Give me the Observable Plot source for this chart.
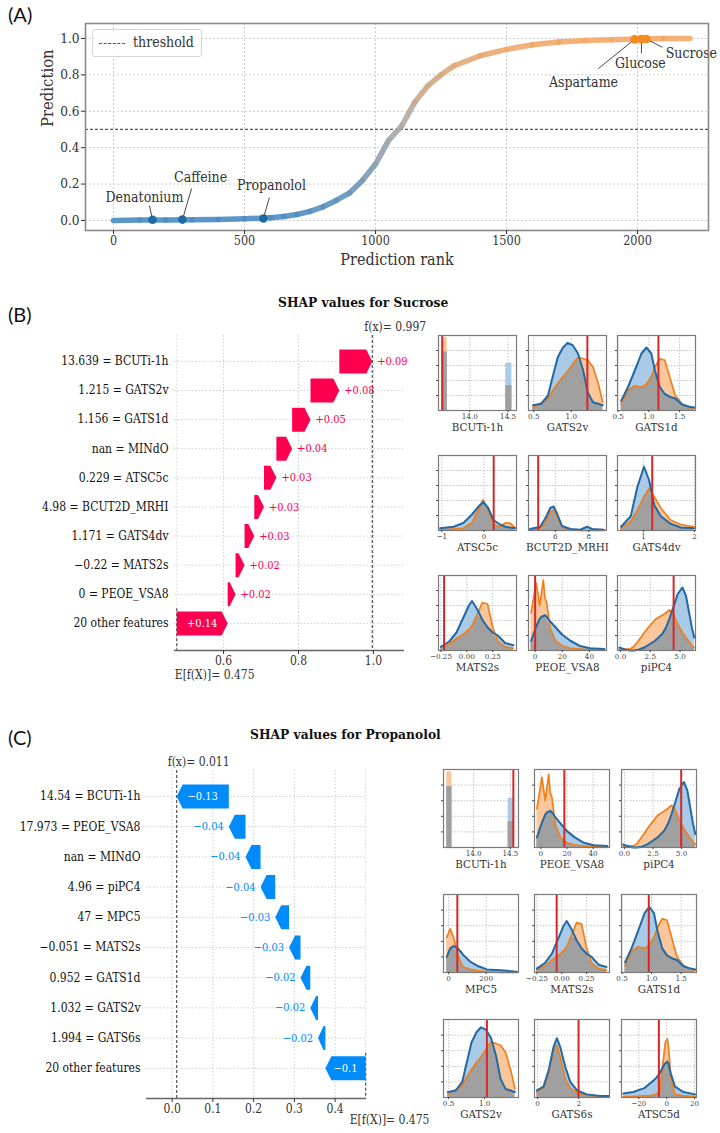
<!DOCTYPE html>
<html>
<head>
<meta charset="utf-8">
<script src="https://cdn.jsdelivr.net/npm/d3@7"></script>
<script src="https://cdn.jsdelivr.net/npm/@observablehq/plot@0.6"></script>
<style>
  body { margin: 0; background: #fff; }
  #root { position: relative; width: 720px; height: 1133px; overflow: hidden; background: #fff; font-family: 'DejaVu Serif', serif; font-stretch: condensed; }
  #root svg { overflow: visible; font-stretch: condensed; }
</style>
</head>
<body>
<div id="root"></div>
<script>
// ================= DATA =================
// Panel A: prediction curve (rank vs prediction)
const rankPts = [0,100,200,300,400,500,600,650,700,750,800,850,900,950,1000,1050,1100,1150,1200,1250,1300,1400,1500,1600,1700,1800,1900,2000,2100,2200];
const predPts = [0.000,0.002,0.003,0.004,0.006,0.009,0.015,0.022,0.033,0.05,0.075,0.11,0.15,0.22,0.31,0.44,0.52,0.65,0.74,0.80,0.85,0.905,0.94,0.965,0.98,0.988,0.993,0.997,0.999,1.0];
const threshold = 0.5;
const xTicksA = [0, 500, 1000, 1500, 2000];
const yTicksA = [0, 0.2, 0.4, 0.6, 0.8, 1.0];
const annNames = ["Denatonium","Caffeine","Propanolol","Aspartame","Glucose","Sucrose"];
const annRank = [149, 263, 572, 1989, 2015, 2034];
const annPred = [0.004, 0.005, 0.011, 0.995, 0.996, 0.997];
const annTipRank = [137, 298, 595, 1851, 2015, 2095];
const annTipPred = [0.082, 0.176, 0.126, 0.835, 0.918, 0.951];

// Panel B: SHAP waterfall for Sucrose
const sucNames = ["BCUTi-1h","GATS2v","GATS1d","MINdO","ATSC5c","BCUT2D_MRHI","GATS4dv","MATS2s","PEOE_VSA8","20 other features"];
const sucVals = ["13.639","1.215","1.156","nan","0.229","4.98","1.171","\u22120.22","0", null];
const sucShap = [0.088,0.077,0.049,0.042,0.033,0.026,0.026,0.024,0.021,0.136];
const sucBase = 0.475, sucFx = 0.997;
const sucTicks = [0.6, 0.8, 1.0];

// Panel C: SHAP waterfall for Propanolol
const proNames = ["BCUTi-1h","PEOE_VSA8","MINdO","piPC4","MPC5","MATS2s","GATS1d","GATS2v","GATS6s","20 other features"];
const proVals = ["14.54","17.973","nan","4.96","47","\u22120.051","0.952","1.032","1.994", null];
const proShap = [-0.128,-0.041,-0.037,-0.036,-0.034,-0.028,-0.024,-0.019,-0.018,-0.099];
const proBase = 0.475, proFx = 0.011;
const proTicks = [0, 0.1, 0.2, 0.3, 0.4];

// Feature distributions (relative density, blue = non-sweet class, orange = sweet class)
const bcuti_x1 = [13.635, 14.47], bcuti_x2 = [13.705, 14.55];
const bcuti_non = [0.78, 0.63], bcuti_sweet = [0.97, 0.33];
const bcuti_ticks = [14.0, 14.5];

const gats2v_x = [0.49,0.6,0.69,0.75,0.82,0.89,0.95,1.02,1.09,1.16,1.22,1.29,1.36,1.42];
const gats2v_non = [0.07,0.09,0.2,0.44,0.71,0.84,0.9,0.87,0.76,0.53,0.24,0.11,0.09,0.07];
const gats2v_sweet = [0.04,0.1,0.16,0.26,0.36,0.45,0.52,0.62,0.71,0.69,0.67,0.58,0.36,0.11];
const gats2v_ticks = [0.5, 1.0];

const gats1d_x = [0.55,0.66,0.77,0.88,0.96,1.04,1.1,1.18,1.26,1.35,1.43,1.54,1.66,1.74];
const gats1d_non = [0.13,0.31,0.53,0.76,0.84,0.76,0.53,0.31,0.22,0.18,0.16,0.08,0.05,0.04];
const gats1d_sweet = [0.09,0.27,0.33,0.31,0.35,0.45,0.58,0.69,0.67,0.42,0.2,0.09,0.04,0.03];
const gats1d_ticks = [0.5, 1.0, 1.5];

const atsc5c_x = [-1.04,-0.72,-0.49,-0.29,-0.13,-0.02,0.1,0.22,0.38,0.5,0.61,0.73];
const atsc5c_non = [0.03,0.05,0.1,0.21,0.32,0.38,0.3,0.14,0.08,0.05,0.04,0.03];
const atsc5c_sweet = [0.01,0.02,0.03,0.1,0.28,0.41,0.27,0.08,0.05,0.1,0.1,0.04];
const atsc5c_ticks = [-1, 0];

const bcut2d_x = [4.5,5.1,5.4,5.7,5.9,6.1,6.4,6.9,7.5,7.9,8.2,8.9];
const bcut2d_non = [0.02,0.05,0.16,0.3,0.32,0.23,0.06,0.02,0.01,0.05,0.02,0.01];
const bcut2d_sweet = [0.01,0.03,0.1,0.25,0.27,0.19,0.05,0.01,0.0,0.0,0.0,0.0];
const bcut2d_ticks = [6, 8];

const gats4dv_x = [0.56,0.75,0.88,1.01,1.11,1.21,1.34,1.53,1.73,1.99];
const gats4dv_non = [0.05,0.19,0.58,0.85,0.67,0.34,0.19,0.09,0.04,0.03];
const gats4dv_sweet = [0.03,0.12,0.27,0.45,0.56,0.45,0.3,0.14,0.08,0.05];
const gats4dv_ticks = [1, 2];

const mats2s_x = [-0.25,-0.17,-0.1,-0.03,0.02,0.05,0.1,0.15,0.2,0.25,0.3,0.37,0.45];
const mats2s_non = [0.05,0.12,0.24,0.45,0.6,0.66,0.55,0.41,0.31,0.24,0.2,0.1,0.07];
const mats2s_sweet = [0.04,0.08,0.16,0.22,0.28,0.33,0.48,0.64,0.62,0.31,0.12,0.05,0.03];
const mats2s_ticks = [-0.25, 0, 0.25];

const peoe_x = [-3,0.8,3.3,4.6,6,7.2,8.5,11,15,20,26,33,40.5,51];
const peoe_non = [0.13,0.32,0.42,0.45,0.46,0.47,0.45,0.39,0.31,0.21,0.13,0.06,0.03,0.02];
const peoe_sweet = [0.5,0.9,0.6,0.75,0.94,0.7,0.64,0.3,0.13,0.06,0.03,0.02,0.01,0.01];
const peoe_ticks = [0, 20, 40];

const pipc4_x = [-0.1,0.4,0.8,1.1,1.5,2.0,2.3,2.9,3.5,3.8,4.1,4.4,4.8,5.2,5.5,6.0,6.2];
const pipc4_non = [0.04,0.01,0.0,0.0,0.01,0.04,0.07,0.13,0.22,0.3,0.42,0.56,0.75,0.84,0.73,0.3,0.17];
const pipc4_sweet = [0.02,0.02,0.02,0.05,0.13,0.24,0.3,0.41,0.47,0.5,0.54,0.5,0.35,0.24,0.17,0.07,0.04];
const pipc4_ticks = [0, 2.5, 5];

const mpc5_x = [-9,9,27,48,53,71,80,115,159,204,274,363];
const mpc5_non = [0.2,0.31,0.34,0.31,0.3,0.25,0.22,0.14,0.08,0.04,0.03,0.01];
const mpc5_sweet = [0.45,0.56,0.45,0.24,0.2,0.1,0.07,0.04,0.02,0.01,0.0,0.0];
const mpc5_ticks = [0, 200];

const gats6s_x = [-0.03,0.29,0.54,0.78,0.94,1.1,1.35,1.59,1.92,2.4,3.06,3.46];
const gats6s_non = [0.09,0.14,0.35,0.65,0.76,0.65,0.39,0.2,0.09,0.04,0.02,0.02];
const gats6s_sweet = [0.07,0.12,0.31,0.61,0.67,0.52,0.24,0.12,0.06,0.03,0.01,0.01];
const gats6s_ticks = [0, 2];

const atsc5d_x = [-31,-24,-16,-12,-8,-5,-2.4,-1,0.5,1.2,2.4,2.9,6,12,20.5];
const atsc5d_non = [0.05,0.07,0.12,0.18,0.24,0.31,0.4,0.44,0.46,0.44,0.35,0.31,0.14,0.07,0.04];
const atsc5d_sweet = [0.01,0.01,0.02,0.02,0.04,0.07,0.48,0.7,0.75,0.67,0.4,0.26,0.04,0.02,0.01];
const atsc5d_ticks = [-20, 0, 20];

const histGridY = [0.2, 0.4, 0.6, 0.8];

// Which panels appear, and the sample's value (red line)
const sucGrid = ["BCUTi-1h","GATS2v","GATS1d","ATSC5c","BCUT2D_MRHI","GATS4dv","MATS2s","PEOE_VSA8","piPC4"];
const sucSample = [13.639, 1.215, 1.156, 0.229, 4.98, 1.171, -0.22, 0, 4.46];
const proGrid = ["BCUTi-1h","PEOE_VSA8","piPC4","MPC5","MATS2s","GATS1d","GATS2v","GATS6s","ATSC5d"];
const proSample = [14.54, 17.973, 4.96, 47, -0.051, 0.952, 1.032, 1.994, -5.6];

// Table the drawing code uses (built from the arrays above)
const FEATURES = {
  "BCUTi-1h":    {domain: [13.59, 14.61], ticks: bcuti_ticks, fmt: ".1f", bars: {x1: bcuti_x1, x2: bcuti_x2, non: bcuti_non, sweet: bcuti_sweet}},
  "GATS2v":      {domain: [0.43, 1.47],  ticks: gats2v_ticks, fmt: ".1f", x: gats2v_x, non: gats2v_non, sweet: gats2v_sweet},
  "GATS1d":      {domain: [0.49, 1.76],  ticks: gats1d_ticks, fmt: ".1f", x: gats1d_x, non: gats1d_non, sweet: gats1d_sweet},
  "ATSC5c":      {domain: [-1.08, 0.77], ticks: atsc5c_ticks, fmt: "d",   x: atsc5c_x, non: atsc5c_non, sweet: atsc5c_sweet},
  "BCUT2D_MRHI": {domain: [4.4, 9.06],   ticks: bcut2d_ticks, fmt: "d",   x: bcut2d_x, non: bcut2d_non, sweet: bcut2d_sweet},
  "GATS4dv":     {domain: [0.49, 2.02],  ticks: gats4dv_ticks, fmt: "d",  x: gats4dv_x, non: gats4dv_non, sweet: gats4dv_sweet},
  "MATS2s":      {domain: [-0.274, 0.48], ticks: mats2s_ticks, fmt: ".2f", x: mats2s_x, non: mats2s_non, sweet: mats2s_sweet},
  "PEOE_VSA8":   {domain: [-4.9, 52.6],  ticks: peoe_ticks, fmt: "d",     x: peoe_x, non: peoe_non, sweet: peoe_sweet},
  "piPC4":       {domain: [-0.26, 6.3],  ticks: pipc4_ticks, fmt: ".1f",  x: pipc4_x, non: pipc4_non, sweet: pipc4_sweet},
  "MPC5":        {domain: [-26.5, 372],  ticks: mpc5_ticks, fmt: "d",     x: mpc5_x, non: mpc5_non, sweet: mpc5_sweet},
  "GATS6s":      {domain: [-0.15, 3.5],  ticks: gats6s_ticks, fmt: "d",   x: gats6s_x, non: gats6s_non, sweet: gats6s_sweet},
  "ATSC5d":      {domain: [-32.4, 21.4], ticks: atsc5d_ticks, fmt: "d",   x: atsc5d_x, non: atsc5d_non, sweet: atsc5d_sweet}
};

// ================= DRAWING =================
const SERIF = "'DejaVu Serif', 'Liberation Serif', serif";
const root = document.getElementById("root");

function put(node, left, top, width) {
  const d = document.createElement("div");
  d.style.cssText = `position:absolute;left:${left}px;top:${top}px;` + (width ? `width:${width}px;` : "");
  d.appendChild(node);
  root.appendChild(d);
  return d;
}
function htmlText(str, left, top, css) {
  const d = document.createElement("div");
  d.textContent = str;
  d.style.cssText = `position:absolute;left:${left}px;top:${top}px;white-space:nowrap;line-height:1;` + css;
  root.appendChild(d);
  return d;
}

// ---------- Panel A ----------
const curve = rankPts.map((r, i) => ({rank: r, pred: predPts[i]}));
const segs = d3.pairs(curve).map(([a, b]) => ({x1: a.rank, y1: a.pred, x2: b.rank, y2: b.pred, c: (a.pred + b.pred) / 2}));
const ann = annNames.map((name, i) => ({name, rank: annRank[i], pred: annPred[i], tr: annTipRank[i], tp: annTipPred[i]}));
const annOffset = {Denatonium: [-5, -8], Caffeine: [9, -11], Propanolol: [2, -12], Aspartame: [-15, 14], Glucose: [-1, 10], Sucrose: [29, 6]};

const chartA = Plot.plot({
  width: 720, height: 275,
  marginLeft: 85, marginRight: 12, marginTop: 23, marginBottom: 45,
  style: {fontFamily: SERIF, fontSize: "13px", color: "#333", background: "transparent", overflow: "visible"},
  x: {domain: [-107, 2271]},
  y: {domain: [-0.055, 1.082]},
  color: {type: "linear", domain: [0, 0.5, 1], range: ["#4a8cc4", "#a8a8a8", "#f5a865"]},
  marks: [
    Plot.gridX({ticks: xTicksA, stroke: "#cccccc", strokeOpacity: 1, strokeDasharray: "2,2"}),
    Plot.gridY({ticks: yTicksA, stroke: "#cccccc", strokeOpacity: 1, strokeDasharray: "2,2"}),
    Plot.ruleY([threshold], {stroke: "#555", strokeWidth: 1.3, strokeDasharray: "3,2"}),
    Plot.link(segs, {x1: "x1", y1: "y1", x2: "x2", y2: "y2", stroke: "c", strokeWidth: 5.5, strokeLinecap: "round", strokeOpacity: 0.9}),
    Plot.link(ann, {x1: "rank", y1: "pred", x2: "tr", y2: "tp", stroke: "#333", strokeWidth: 0.9}),
    Plot.dot(ann.filter(d => d.pred < threshold), {x: "rank", y: "pred", r: 4.3, fill: "#1f6aa6", stroke: null}),
    Plot.dot(ann.filter(d => d.pred >= threshold), {x: "rank", y: "pred", r: 4.3, fill: "#f5891f", stroke: null}),
    ...ann.map(d => Plot.text([d], {x: "tr", y: "tp", text: "name", dx: annOffset[d.name][0], dy: annOffset[d.name][1], fontSize: 14, fill: "#333"})),
    Plot.frame({stroke: "#8a8a8a", strokeWidth: 1.6}),
    Plot.axisX({ticks: xTicksA, tickSize: 4, tickPadding: 2, tickFormat: "d", fontSize: 12.5, label: null}),
    Plot.axisY({ticks: yTicksA, tickSize: 4, tickPadding: 2, tickFormat: ".1f", fontSize: 13.5, label: null}),
    Plot.text(["Prediction rank"], {text: d => d, frameAnchor: "bottom", dy: 34, fontSize: 16, fill: "#333"}),
    Plot.text(["Prediction"], {text: d => d, frameAnchor: "left", dx: -38, rotate: -90, fontSize: 16.5, fill: "#333"})
  ]
});
put(chartA, 0, 0, 720);

// legend box
(function () {
  const leg = document.createElement("div");
  leg.style.cssText = "position:absolute;left:92px;top:29px;width:110px;height:28px;border:1px solid #d6d6d6;border-radius:3px;background:rgba(255,255,255,0.85);box-sizing:border-box;";
  const ln = document.createElement("div");
  ln.style.cssText = "position:absolute;left:6px;top:13px;width:26px;height:0;border-top:1.4px dashed #555;";
  const tx = document.createElement("div");
  tx.textContent = "threshold";
  tx.style.cssText = `position:absolute;left:40px;top:5px;font-family:${SERIF};font-size:14px;color:#333;line-height:1;white-space:nowrap;`;
  leg.appendChild(ln); leg.appendChild(tx);
  root.appendChild(leg);
})();

// ---------- Waterfall ----------
function waterfall(cfg) {
  const n = cfg.shap.length;
  const starts = [], ends = [];
  let acc = cfg.base;
  for (let i = n - 1; i >= 0; i--) { starts[i] = acc; acc += cfg.shap[i]; ends[i] = acc; }
  const fw = cfg.width - cfg.ml - cfg.mr, fh = cfg.height - cfg.mt - cfg.mb;
  const ux = (cfg.xdom[1] - cfg.xdom[0]) / fw;
  const uy = (cfg.ydom[1] - cfg.ydom[0]) / fh;
  const hh = 12 * uy;
  const poly = [];
  cfg.shap.forEach((s, i) => {
    const a = starts[i], b = ends[i], dir = Math.sign(s), len = Math.abs(s);
    const h = Math.min(6 * ux, 0.75 * len);
    [[a, i - hh], [b - dir * h, i - hh], [b, i], [b - dir * h, i + hh], [a, i + hh]]
      .forEach(([x, y]) => poly.push({row: i, x, y}));
  });
  const labs = cfg.shap.map((s, i) => ({i, s, a: starts[i], b: ends[i], inside: Math.abs(s) >= 0.095}));
  const rows = cfg.names.map((nm, i) => ({i, nm, val: cfg.vals[i], text: (cfg.vals[i] == null ? "" : cfg.vals[i] + " = ") + nm}));
  const positive = cfg.shap[0] > 0;
  const color = positive ? "#ff0051" : "#008bfb";
  const fmt = d3.format("+.2~f");
  const svg = Plot.plot({
    width: cfg.width, height: cfg.height,
    marginLeft: cfg.ml, marginRight: cfg.mr, marginTop: cfg.mt, marginBottom: cfg.mb,
    style: {fontFamily: SERIF, fontSize: "11.5px", color: "#333", background: "transparent", overflow: "visible"},
    x: {domain: cfg.xdom},
    y: {domain: cfg.ydom, reverse: true, axis: null},
    marks: [
      Plot.ruleX(cfg.ticks, {stroke: "#cfcfcf", strokeDasharray: "1.5,2"}),
      Plot.ruleY(d3.range(n), {stroke: "#cfcfcf", strokeDasharray: "1.5,2"}),
      Plot.ruleX([cfg.base], {stroke: "#d8d8d8", strokeDasharray: "1.5,2"}),
      Plot.ruleX([cfg.base], {y1: n - 1.5, y2: cfg.ydom[1], stroke: "#555", strokeDasharray: "3,2", strokeWidth: 1.2}),
      Plot.ruleX([cfg.fx], {stroke: "#555", strokeDasharray: "3,2", strokeWidth: 1.2}),
      Plot.line(poly, {x: "x", y: "y", z: "row", fill: color, stroke: "none", curve: "linear"}),
      Plot.text(labs.filter(d => d.inside), {x: d => (d.a + d.b) / 2, y: "i", text: d => fmt(d.s), fill: "white", fontSize: 11}),
      Plot.text(labs.filter(d => !d.inside), {x: "b", y: "i", text: d => fmt(d.s), fill: color, fontSize: 11, dx: positive ? 5 : -5, textAnchor: positive ? "start" : "end"}),
      Plot.text(rows, {y: "i", text: "text", frameAnchor: "left", dx: -6, textAnchor: "end", fontSize: 12, fill: "#111", ariaLabel: "ylab"}),
      Plot.ruleY([cfg.ydom[1]], {stroke: "#666", strokeWidth: 1.5}),
      Plot.axisX({ticks: cfg.ticks, tickFormat: ".1f", tickSize: 4, tickPadding: 2, fontSize: 12, label: null}),
      Plot.text([cfg.fx], {x: d => d, frameAnchor: "top", dy: -13, dx: cfg.fdx, textAnchor: "start", text: d => "f(x)= " + d3.format(".3f")(d), fontSize: 12, ariaLabel: "fxlab"}),
      Plot.text([cfg.base], {x: d => d, frameAnchor: "bottom", dy: cfg.edy, dx: cfg.edx, textAnchor: "start", text: d => "E[f(X)]= " + d3.format(".3f")(d), fontSize: 12, ariaLabel: "elab"})
    ]
  });
  const S = d3.select(svg);
  S.selectAll('g[aria-label="ylab"] text').each(function (_, k) {
    const r = rows[k];
    const t = d3.select(this);
    t.text(null);
    if (r.val != null) t.append("tspan").attr("fill", "#a3a3a3").text(r.val + " = ");
    t.append("tspan").attr("fill", "#111").text(r.nm);
  });
  function split(sel, a, b) {
    sel.each(function () {
      const t = d3.select(this);
      t.text(null);
      t.append("tspan").attr("font-style", "italic").attr("fill", "#222").text(a);
      t.append("tspan").attr("fill", "#a8a8a8").text(b);
    });
  }
  split(S.selectAll('g[aria-label="fxlab"] text'), "f(x)", "= " + d3.format(".3f")(cfg.fx));
  split(S.selectAll('g[aria-label="elab"] text'), "E[f(X)]", "= " + d3.format(".3f")(cfg.base));
  put(svg, cfg.left, cfg.top, cfg.width);
}

waterfall({names: sucNames, vals: sucVals, shap: sucShap, base: sucBase, fx: sucFx, ticks: sucTicks,
  left: 0, top: 300, width: 420, height: 390, ml: 174, mr: 16, mt: 35, mb: 40,
  xdom: [0.469, 1.083], ydom: [-0.89, 9.93], fdx: -8, edx: -2, edy: 28});
waterfall({names: proNames, vals: proVals, shap: proShap, base: proBase, fx: proFx, ticks: proTicks,
  left: 0, top: 740, width: 420, height: 393, ml: 146, mr: 54, mt: 30, mb: 35,
  xdom: [-0.063, 0.477], ydom: [-0.86, 10.0], fdx: -9, edx: -16, edy: 25});

// ---------- Small distribution panels ----------
function histPanel(feat, sample, left, top, fw, fh) {
  const F = FEATURES[feat];
  const ml = 14, mr = 14, mt = 4, mb = 32;
  const marks = [
    Plot.ruleX(F.ticks, {stroke: "#c4c4c4", strokeDasharray: "1.5,1.5"}),
    Plot.ruleY(histGridY, {stroke: "#c4c4c4", strokeDasharray: "1.5,1.5"})
  ];
  if (F.bars) {
    const bars = F.bars.x1.map((x1, i) => ({x1, x2: F.bars.x2[i], non: F.bars.non[i], sweet: F.bars.sweet[i], m: Math.min(F.bars.non[i], F.bars.sweet[i])}));
    marks.push(
      Plot.rect(bars, {x1: "x1", x2: "x2", y1: 0, y2: "sweet", fill: "#f9c79b"}),
      Plot.rect(bars, {x1: "x1", x2: "x2", y1: 0, y2: "non", fill: "#a9cbe7"}),
      Plot.rect(bars, {x1: "x1", x2: "x2", y1: 0, y2: "m", fill: "#a0a0a0"})
    );
  } else {
    const rows = F.x.map((x, i) => ({x, non: F.non[i], sweet: F.sweet[i], m: Math.min(F.non[i], F.sweet[i])}));
    marks.push(
      Plot.areaY(rows, {x: "x", y: "non", fill: "#a9cbe7"}),
      Plot.areaY(rows, {x: "x", y: "sweet", fill: "#f9c79b"}),
      Plot.areaY(rows, {x: "x", y: "m", fill: "#a0a0a0"}),
      Plot.lineY(rows, {x: "x", y: "sweet", stroke: "#f07f1c", strokeWidth: 1.7}),
      Plot.lineY(rows, {x: "x", y: "non", stroke: "#2468a4", strokeWidth: 2})
    );
  }
  marks.push(
    Plot.ruleX([sample], {stroke: "#d62728", strokeWidth: 2}),
    Plot.frame({stroke: "#7a7a7a", strokeWidth: 1.2}),
    Plot.axisX({ticks: F.ticks, tickFormat: F.fmt, tickSize: 2, tickPadding: 1, fontSize: 8, label: null}),
    Plot.axisY({ticks: histGridY, tickSize: 2, tickFormat: () => "", label: null}),
    Plot.text([feat], {text: d => d, frameAnchor: "bottom", dy: 20.5, fontSize: 11.5, fill: "#333"})
  );
  const svg = Plot.plot({
    width: fw + ml + mr, height: fh + mt + mb,
    marginLeft: ml, marginRight: mr, marginTop: mt, marginBottom: mb,
    style: {fontFamily: SERIF, fontSize: "8px", color: "#444", background: "transparent", overflow: "visible"},
    x: {domain: F.domain},
    y: {domain: [0, 1]},
    marks
  });
  put(svg, left - ml, top - mt, fw + ml + mr);
}

const sucColX = [438, 528, 617], sucRowY = [335, 455, 575];
sucGrid.forEach((f, k) => histPanel(f, sucSample[k], sucColX[k % 3], sucRowY[Math.floor(k / 3)], 78, 75));
const proColX = [443, 534, 621], proRowY = [769, 894, 1019];
proGrid.forEach((f, k) => histPanel(f, proSample[k], proColX[k % 3], proRowY[Math.floor(k / 3)], 75, 78));

// ---------- Titles and panel letters ----------
htmlText("(A)", 8, 4, "font-family:Lato,'Open Sans',sans-serif;font-size:20px;color:#111;font-stretch:normal;");
htmlText("(B)", 8, 304, "font-family:Lato,'Open Sans',sans-serif;font-size:20px;color:#111;font-stretch:normal;");
htmlText("(C)", 8, 727, "font-family:Lato,'Open Sans',sans-serif;font-size:20px;color:#111;font-stretch:normal;");
htmlText("SHAP values for Sucrose", 278, 297, `font-family:${SERIF};font-size:12.3px;font-weight:bold;color:#111;font-stretch:normal;`);
htmlText("SHAP values for Propanolol", 250, 729, `font-family:${SERIF};font-size:12.3px;font-weight:bold;color:#111;font-stretch:normal;`);
</script>
</body>
</html>
